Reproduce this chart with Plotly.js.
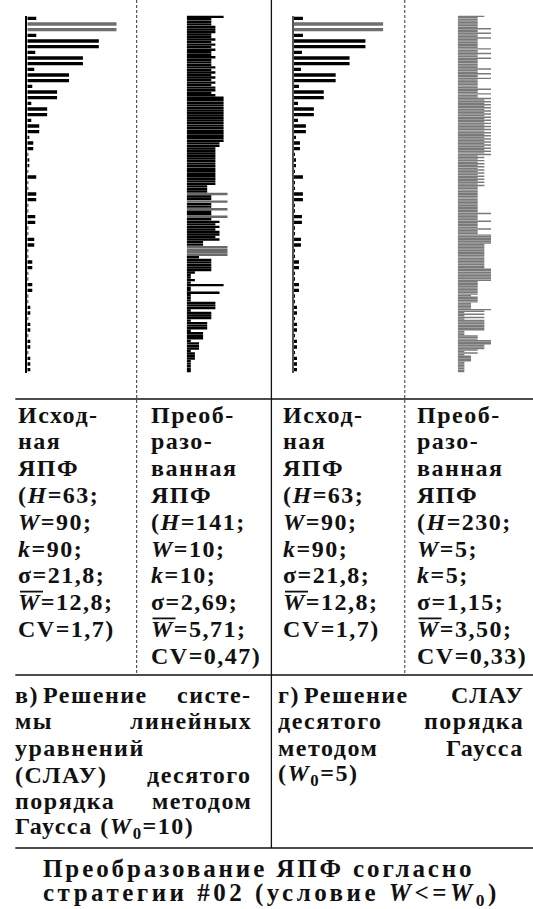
<!DOCTYPE html>
<html><head><meta charset="utf-8">
<script src="https://cdn.plot.ly/plotly-3.0.1.min.js"></script>
<style id="basecss">
html,body{margin:0;padding:0;background:#fff;}
#chart{width:533px;height:909px;}
text.annotation-text{letter-spacing:1.5px; font-family:"Liberation Serif","Times New Roman",Tinos,serif !important;}
</style></head><body><div id="chart"></div>
<script>
// ---------- DATA ----------
// Original tier widths (H=63, W=90), used in panels 1 and 3
const originalWidths = [9,90,90,9,72,72,8,56,56,7,42,42,5,30,30,4,20,20,4,12,12,2,6,6,1,2,2,1,
  9,1,1,9,9,1,1,8,8,1,1,7,7,1,1,5,5,1,1,5,5,1,1,3,3,1,3,3,1,3,3,1,3,3,3];
// Transformed, W0=10 (H=141)
const transformed10 = [9,
  6,6,6,7,7,7,6,
  6,7,6,7,6,7,6,
  6,7,6,6,6,7,6,7,
  6,7,6,7,6,7,7,
  6,7,
  9,9,9,9,9,9,
  9,9,9,9,9,9,9,
  9,9,9,9,9,
  8,8,
  7,7,7,7,7,7,7,7,
  7,7,7,7,7,7,7,
  5,5,5,
  10,6,6,10,6,6,10,6,6,10,6,8,
  7,8,7,8,8,7,8,
  4,4,
  10,10,10,10,
  3,6,6,6,6,6,2,1,1,2,1,9,1,1,8,1,1,1,
  7,7,7,1,6,6,6,1,5,5,5,1,4,4,4,1,3,3,3,1,2,2,2,1,1,1,1,1];
// Transformed, W0=5 (H=230)
const transformed5 = [4,
  3,3,3,3,3,3,3,5,3,3,5,3,3,5,
  3,3,3,3,3,3,5,3,3,5,3,3,5,
  3,3,3,3,3,3,5,3,3,5,3,3,5,
  3,3,3,3,3,3,5,3,3,5,3,3,5,
  4,5,4,5,4,5,4,5,4,5,4,5,4,5,4,5,4,5,4,5,4,5,4,5,4,5,4,5,4,5,4,5,4,5,4,5,
  3,4,3,4,3,4,3,4,3,4,3,4,3,4,3,4,3,4,3,4,
  3,3,3,3,3,3,3,3,3,3,3,3,3,3,3,3,3,
  5,
  3,3,3,3,5,3,3,3,3,5,3,3,3,
  5,5,5,5,5,5,
  4,4,4,4,4,4,4,4,4,4,4,4,4,4,4,4,
  5,5,5,5,5,5,5,5,
  3,3,3,3,3,3,3,3,3,
  2,3,3,3,3,2,2,2,2,5,
  4,1,4,1,4,1,4,
  4,4,4,4,4,4,
  1,1,1,3,3,3,5,5,5,4,4,4,3,1,3,1,2,2,2,2,
  1,1,1,1,1,1,1];

// Texts (the bar over W in the mean-width row is drawn as a line shape)
const colOrig = ["Исход-","ная","ЯПФ","(<i>H</i>=63;","<i>W</i>=90;","<i>k</i>=90;","σ=21,8;",
  "<i>W</i>=12,8;","CV=1,7)"];
const colT10 = ["Преоб-","разо-","ванная","ЯПФ","(<i>H</i>=141;","<i>W</i>=10;","<i>k</i>=10;","σ=2,69;",
  "<i>W</i>=5,71;","CV=0,47)"];
const colT5 = ["Преоб-","разо-","ванная","ЯПФ","(<i>H</i>=230;","<i>W</i>=5;","<i>k</i>=5;","σ=1,15;",
  "<i>W</i>=3,50;","CV=0,33)"];
const captionV = [["в)","Решение","систе-"],["мы","линейных"],["уравнений"],["(СЛАУ)","десятого"],
  ["порядка","методом"],["Гаусса (<i>W</i><sub>0</sub>=10)"]];
const captionG = [["г)","Решение","СЛАУ"],["десятого","порядка"],["методом","Гаусса"],["(<i>W</i><sub>0</sub>=5)"]];
const titleLines = ["Преобразование ЯПФ согласно","стратегии #02 (условие <i>W</i>&lt;=<i>W</i><sub>0</sub>)"];

// ---------- LAYOUT HELPERS ----------
const PW=533, PH=909;
const px = v => v/PW, py = v => 1 - v/PH;
const yDom = [py(372.5), py(15.5)];
const FONT = {family:'Liberation Serif, serif', size:24, color:'#111', weight:'bold'};
const TFONT = {family:'Liberation Serif, serif', size:25, color:'#111', weight:'bold'};

function tiers(n){ const a=[]; for(let i=1;i<=n;i++) a.push(i); return a; }
function colorsFor(vals, base, maxc){ const m=Math.max(...vals); return vals.map(v=> v===m?maxc:base); }

const traces = [
  {type:'bar', orientation:'h', x:originalWidths, y:tiers(originalWidths.length), xaxis:'x', yaxis:'y',
   width:0.6, marker:{color:colorsFor(originalWidths,'#000','#6f6f6f'), line:{width:0}}, hoverinfo:'none'},
  {type:'bar', orientation:'h', x:transformed10, y:tiers(transformed10.length), xaxis:'x2', yaxis:'y2',
   width:0.95, marker:{color:colorsFor(transformed10,'#000','#6a6a6a'), line:{width:0}}, hoverinfo:'none'},
  {type:'bar', orientation:'h', x:originalWidths, y:tiers(originalWidths.length), xaxis:'x3', yaxis:'y3',
   width:0.6, marker:{color:colorsFor(originalWidths,'#000','#6f6f6f'), line:{width:0}}, hoverinfo:'none'},
  {type:'bar', orientation:'h', x:transformed5, y:tiers(transformed5.length), xaxis:'x4', yaxis:'y4',
   width:0.95, marker:{color:'#7a7a7a', line:{width:0}}, hoverinfo:'none'}
];

function xax(d0,d1,maxv,anchor){ return {domain:[px(d0),px(d1)], range:[0,maxv], anchor:anchor,
  showgrid:false, zeroline:false, showline:false, showticklabels:false, ticks:'', fixedrange:true}; }
function yax(n,anchor,line,lc){ return {domain:yDom, range:[n+0.5,0.5], anchor:anchor,
  showgrid:false, zeroline:false, showline:line, linecolor:lc, linewidth:2, showticklabels:false, ticks:'', fixedrange:true}; }

const annotations = [];
function addText(t,x,y,anchor,font){
  annotations.push({text:t, x:px(x), y:py(y), xref:'paper', yref:'paper', xanchor:anchor||'left', yanchor:'middle',
    showarrow:false, font:font||FONT, align:'left', borderpad:0, borderwidth:0});
  return annotations.length-1;
}
const shapes = [];
const rowY0=414.5, rowDY=26.8;
const colX=[18,150.5,283,416.5];
[[colOrig,colX[0]],[colT10,colX[1]],[colOrig,colX[2]],[colT5,colX[3]]].forEach(([lines,x])=>{
  lines.forEach((t,i)=>addText(t,x,rowY0+rowDY*i,'left'));
  // overline above W in the mean-width row (second-to-last line of each column)
  const yo = rowY0+rowDY*(lines.length-2)-10.5;
  shapes.push({type:'line', xref:'paper', yref:'paper', x0:px(x+2), x1:px(x+25), y0:py(yo), y1:py(yo), line:{color:'#111', width:1.8}});
});
const capY0=694.5, capDY=26.7;
const vRight=252, gRight=524;
captionV.forEach((words,i)=>{
  const y=capY0+capDY*i;
  if(words.length===3){ addText(words[0],14.5,y); addText(words[1],43,y); addText(words[2],vRight,y,'right'); }
  else if(words.length===2){ addText(words[0],14.5,y); addText(words[1],vRight,y,'right'); }
  else addText(words[0],14.5,y);
});
captionG.forEach((words,i)=>{
  const y=capY0+capDY*i;
  if(words.length===3){ addText(words[0],278,y); addText(words[1],304,y); addText(words[2],gRight,y,'right'); }
  else if(words.length===2){ addText(words[0],278,y); addText(words[1],gRight,y,'right'); }
  else addText(words[0],278,y);
});
const titleSpacing = [2.9, 3.5];
const titleIdx = titleLines.map((t,i)=>addText(t,43,868+26.5*i,'left',TFONT));
// wider tracking for the caption title lines
const css = document.createElement('style');
css.textContent = titleIdx.map((k,i)=>`g.annotation[data-index="${k}"] text.annotation-text{letter-spacing:${titleSpacing[i]}px;}`).join('\n');
document.head.appendChild(css);

function hline(y){ shapes.push({type:'line', xref:'paper', yref:'paper', x0:px(15.3), x1:1, y0:py(y), y1:py(y), line:{color:'#111', width:1.3}}); }
function vline(x,y0,y1,dash){ shapes.push({type:'line', xref:'paper', yref:'paper', x0:px(x), x1:px(x), y0:py(y0), y1:py(y1),
  line:{color:dash?'#333':'#111', width:dash?1:1.3, dash:dash?'3px,2px':'solid'}}); }
hline(399); hline(675); hline(848);
vline(271.4,0,848,false);
vline(136.7,0,675,true);
vline(404.8,0,675,true);

const layout = {
  width:PW, height:PH, margin:{l:0,r:0,t:0,b:0}, paper_bgcolor:'#fff', plot_bgcolor:'rgba(0,0,0,0)',
  showlegend:false, barmode:'overlay',
  xaxis:xax(27.3,116.7,90,'y'), yaxis:yax(originalWidths.length,'x',true,'#000'),
  xaxis2:xax(186.7,227.7,10,'y2'), yaxis2:yax(transformed10.length,'x2',false,'#000'),
  xaxis3:xax(294,383.3,90,'y3'), yaxis3:yax(originalWidths.length,'x3',true,'#555'),
  xaxis4:xax(457.7,491,5,'y4'), yaxis4:yax(transformed5.length,'x4',false,'#000'),
  annotations:annotations, shapes:shapes
};
Plotly.newPlot('chart', traces, layout, {staticPlot:true, displayModeBar:false});
</script></body></html>
